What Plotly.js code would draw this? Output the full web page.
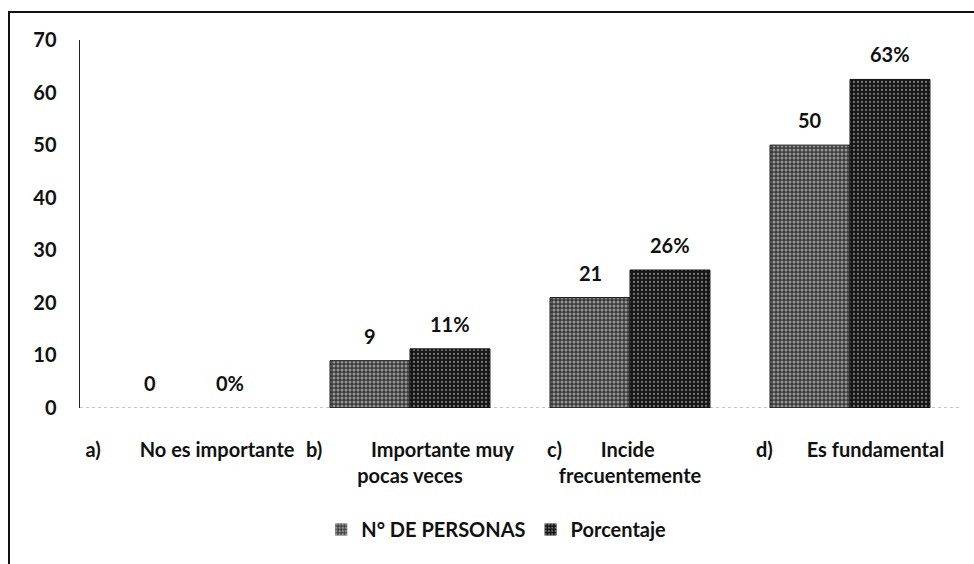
<!DOCTYPE html>
<html>
<head>
<meta charset="utf-8">
<script src="https://cdn.plot.ly/plotly-3.0.1.min.js"></script>
<style>
html,body{margin:0;padding:0;background:#fff;}
#frame{position:absolute;left:8px;top:11px;width:980px;height:580px;border-left:2px solid #111;border-top:2px solid #111;}
#chart{position:absolute;left:0;top:0;width:974px;height:564px;}
</style>
</head>
<body>
<div id="frame"></div>
<div id="chart"></div>
<script>
var categories = ['a', 'b', 'c', 'd'];
var tickLabels = [
  'a)&nbsp;&nbsp;&nbsp;&nbsp;&nbsp;&nbsp;&nbsp;&nbsp;No es importante',
  'b)&nbsp;&nbsp;&nbsp;&nbsp;&nbsp;&nbsp;&nbsp;&nbsp;&nbsp;&nbsp;Importante muy<br>pocas veces',
  'c)&nbsp;&nbsp;&nbsp;&nbsp;&nbsp;&nbsp;&nbsp;&nbsp;Incide&nbsp;&nbsp;&nbsp;&nbsp;&nbsp;&nbsp;&nbsp;&nbsp;&nbsp;&nbsp;&nbsp;&nbsp;<br>frecuentemente',
  'd)&nbsp;&nbsp;&nbsp;&nbsp;&nbsp;&nbsp;&nbsp;Es fundamental'
];
var personas = [0, 9, 21, 50];
var porcentaje = [0, 11.25, 26.25, 62.5];
var personasLabels = ['0', '9', '21', '50'];
var porcentajeLabels = ['0%', '11%', '26%', '63%'];
var seriesNames = ['N° DE PERSONAS', 'Porcentaje'];

var FONT = 'Lato, "Open Sans", sans-serif';
var FS = 20;

function outlineWidths(vals) { return vals.map(function (v) { return v > 0 ? 1 : 0; }); }

var traces = [
  {
    type: 'bar', x: categories, y: personas, name: seriesNames[0],
    marker: {
      color: '#4a4a4a',
      line: {color: '#111', width: outlineWidths(personas)},
      pattern: {shape: '.', fgcolor: '#f0f0f0', bgcolor: '#3a3a3a', size: 4, solidity: 0.45, fillmode: 'overlay'}
    },
    hoverinfo: 'skip'
  },
  {
    type: 'bar', x: categories, y: porcentaje, name: seriesNames[1],
    marker: {
      color: '#1c1c1c',
      line: {color: '#111', width: outlineWidths(porcentaje)},
      pattern: {shape: '.', fgcolor: '#d0d0d0', bgcolor: '#151515', size: 4, solidity: 0.25, fillmode: 'overlay'}
    },
    hoverinfo: 'skip'
  }
];

var annotations = [];
categories.forEach(function (c, i) {
  annotations.push({x: c, y: personas[i], xref: 'x', yref: 'y', text: personasLabels[i],
    showarrow: false, xshift: -40, yshift: 25, font: {family: FONT, size: FS, color: '#111', weight: 'bold'}});
  annotations.push({x: c, y: porcentaje[i], xref: 'x', yref: 'y', text: porcentajeLabels[i],
    showarrow: false, xshift: 40, yshift: 25, font: {family: FONT, size: FS, color: '#111', weight: 'bold'}});
});

var layout = {
  width: 974, height: 564,
  margin: {l: 80, r: 14, t: 40, b: 156},
  paper_bgcolor: 'rgba(0,0,0,0)', plot_bgcolor: 'rgba(0,0,0,0)',
  font: {family: FONT, size: FS, color: '#111', weight: 'bold'},
  barmode: 'group', bargap: 0.273, bargroupgap: 0,
  showlegend: true,
  legend: {orientation: 'h', x: 0.473, xanchor: 'center', y: -0.33, yanchor: 'middle',
    font: {family: FONT, size: FS, color: '#111', weight: 'bold'}, itemwidth: 30, traceorder: 'normal'},
  xaxis: {
    type: 'category', tickmode: 'array', tickvals: categories, ticktext: tickLabels,
    showline: false, zeroline: false, showgrid: false,
    ticks: 'outside', ticklen: 24, tickcolor: 'rgba(0,0,0,0)',
    tickfont: {family: FONT, size: FS, color: '#111', weight: 'bold'}
  },
  yaxis: {
    range: [0, 70], dtick: 10, showgrid: false, zeroline: false,
    showline: true, linecolor: '#222', linewidth: 1.5,
    ticks: 'outside', ticklen: 18, tickcolor: 'rgba(0,0,0,0)',
    tickfont: {family: FONT, size: FS, color: '#111', weight: 'bold'}
  },
  shapes: [
    {type: 'line', xref: 'paper', yref: 'y', x0: 0, x1: 1, y0: 0, y1: 0,
     line: {color: '#888', width: 1, dash: 'dot'}, layer: 'below'}
  ],
  annotations: annotations
};

Plotly.newPlot('chart', traces, layout, {displayModeBar: false, staticPlot: true});
</script>
</body>
</html>
